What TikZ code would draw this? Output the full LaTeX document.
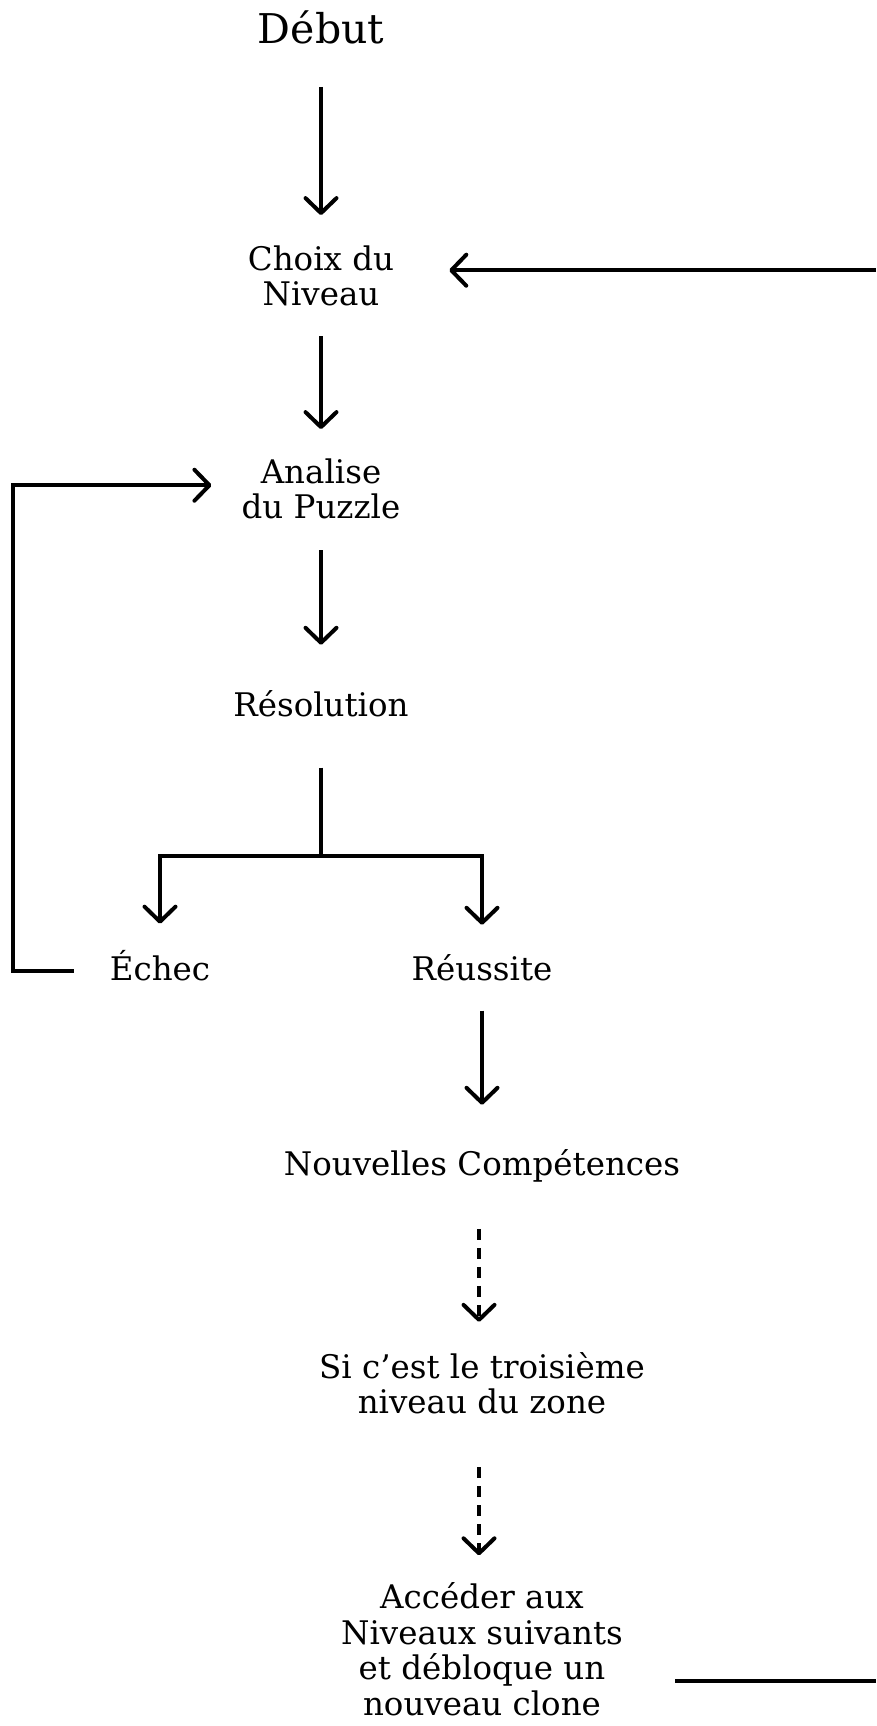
\documentclass[tikz,border=0pt]{standalone}
\usepackage{fontspec}
\setmainfont{DejaVu Serif}
\usetikzlibrary{arrows.meta}

\begin{document}
\begin{tikzpicture}[x=1pt, y=-1pt,
    >={Straight Barb[length=15pt, width=31pt, round]},
    every node/.style={inner sep=0pt, anchor=base, align=center,
      font=\fontsize{32.5}{35.5}\selectfont},
    fleche/.style={->, line width=4pt},
    pointille/.style={fleche, dash pattern=on 11pt off 8pt},
    trait/.style={line width=4pt}]

  % cadre
  \useasboundingbox (0,0) rectangle (876,1726);
  \coordinate (bordg) at (13,0);
  \coordinate (bordd) at (876,0);

  % étapes (ancrées sur la ligne de base de la dernière ligne)
  \node[font=\fontsize{41}{41}\selectfont] (debut) at (321,44) {Début};
  \node (choix) at (321,305.5) {Choix du\\Niveau};
  \node (analise) at (321,518.5) {Analise\\du Puzzle};
  \node (resol) at (321,716) {Résolution};
  \node (echec) at (160,980) {Échec};
  \node (reussite) at (482,980) {Réussite};
  \node (nouv) at (482,1175) {Nouvelles Compétences};
  \node (si) at (482,1413.5) {Si c’est le troisième\\niveau du zone};
  \node (acces) at (482,1715) {Accéder aux\\Niveaux suivants\\et débloque un\\nouveau clone};

  % flèches principales
  \draw[fleche, shorten <=42pt, shorten >=30pt] (debut) -- (choix);
  \draw[fleche, shorten <=30pt, shorten >=29pt] (choix) -- (analise);
  \draw[fleche, shorten <=31pt, shorten >=45pt] (analise) -- (resol);

  % fourche Échec / Réussite
  \coordinate (fourche) at (321,856);
  \draw[trait, shorten <=51pt] (resol) -- (fourche);
  \draw[fleche, shorten >=26pt] (fourche) -| (echec);
  \draw[fleche, shorten >=29pt] (fourche) -| (reussite);

  % suite après Réussite
  \draw[fleche, shorten <=30pt, shorten >=44pt] (reussite) -- (nouv);
  \draw[pointille, shorten <=47pt, shorten >=30pt] ([xshift=-3pt]nouv.south) -- ([xshift=-3pt]si.north);
  \draw[pointille, shorten <=53pt, shorten >=27pt] ([xshift=-3pt]si.south) -- ([xshift=-3pt]acces.north);

  % retour après Échec
  \draw[fleche, shorten <=36pt, shorten >=30pt] ([yshift=-5.6pt]echec.west)
    -- ([yshift=-5.6pt]echec.west -| bordg) |- ([yshift=3.4pt]analise.west);

  % boucle vers le choix du niveau
  \draw[fleche, shorten >=55pt] ([yshift=5.4pt]choix.east -| bordd) -- ([yshift=5.4pt]choix.east);
  \draw[trait, shorten <=52pt] ([yshift=-32.2pt]acces.east) -- ([yshift=-32.2pt]acces.east -| bordd);

\end{tikzpicture}
\end{document}
